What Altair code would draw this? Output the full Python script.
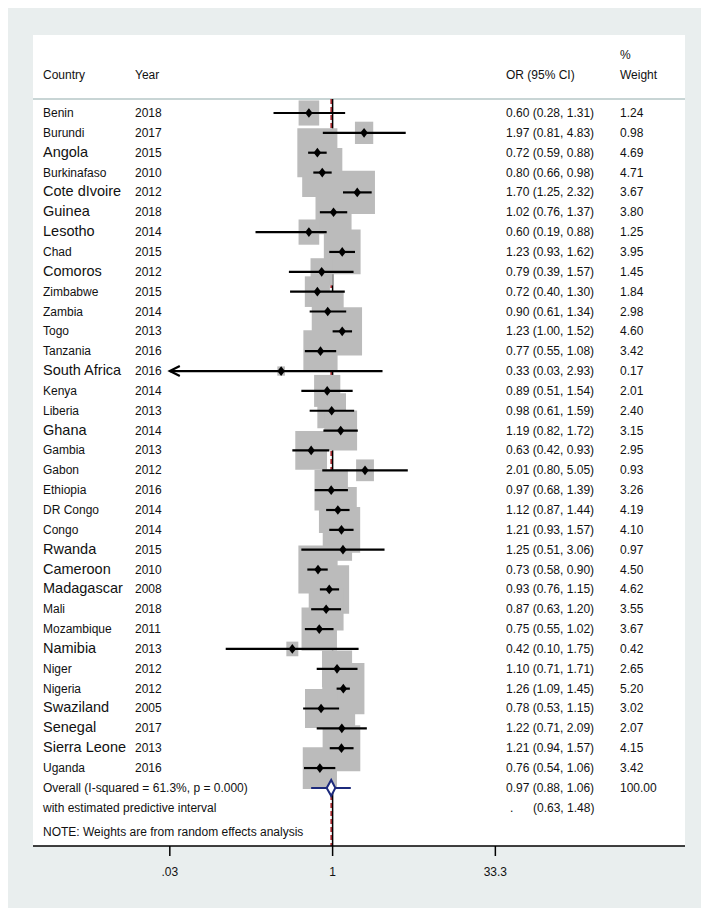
import altair as alt
import pandas as pd

# ---------------- data ----------------
countries = ["Benin", "Burundi", "Angola", "Burkinafaso", "Cote dIvoire", "Guinea", "Lesotho",
             "Chad", "Comoros", "Zimbabwe", "Zambia", "Togo", "Tanzania", "South Africa", "Kenya",
             "Liberia", "Ghana", "Gambia", "Gabon", "Ethiopia", "DR Congo", "Congo", "Rwanda",
             "Cameroon", "Madagascar", "Mali", "Mozambique", "Namibia", "Niger", "Nigeria",
             "Swaziland", "Senegal", "Sierra Leone", "Uganda"]
years = [2018, 2017, 2015, 2010, 2012, 2018, 2014, 2015, 2012, 2015, 2014, 2013, 2016, 2016, 2014,
         2013, 2014, 2013, 2012, 2016, 2014, 2014, 2015, 2010, 2008, 2018, 2011, 2013, 2012, 2012,
         2005, 2017, 2013, 2016]
or_est = [0.60, 1.97, 0.72, 0.80, 1.70, 1.02, 0.60, 1.23, 0.79, 0.72, 0.90, 1.23, 0.77, 0.33, 0.89,
          0.98, 1.19, 0.63, 2.01, 0.97, 1.12, 1.21, 1.25, 0.73, 0.93, 0.87, 0.75, 0.42, 1.10, 1.26,
          0.78, 1.22, 1.21, 0.76]
ci_low = [0.28, 0.81, 0.59, 0.66, 1.25, 0.76, 0.19, 0.93, 0.39, 0.40, 0.61, 1.00, 0.55, 0.03, 0.51,
          0.61, 0.82, 0.42, 0.80, 0.68, 0.87, 0.93, 0.51, 0.58, 0.76, 0.63, 0.55, 0.10, 0.71, 1.09,
          0.53, 0.71, 0.94, 0.54]
ci_high = [1.31, 4.83, 0.88, 0.98, 2.32, 1.37, 0.88, 1.62, 1.57, 1.30, 1.34, 1.52, 1.08, 2.93, 1.54,
           1.59, 1.72, 0.93, 5.05, 1.39, 1.44, 1.57, 3.06, 0.90, 1.15, 1.20, 1.02, 1.75, 1.71, 1.45,
           1.15, 2.09, 1.57, 1.06]
weights = [1.24, 0.98, 4.69, 4.71, 3.67, 3.80, 1.25, 3.95, 1.45, 1.84, 2.98, 4.60, 3.42, 0.17, 2.01,
           2.40, 3.15, 2.95, 0.93, 3.26, 4.19, 4.10, 0.97, 4.50, 4.62, 3.55, 3.67, 0.42, 2.65, 5.20,
           3.02, 2.07, 4.15, 3.42]
large_label_countries = ["Angola", "Cote dIvoire", "Guinea", "Lesotho", "Comoros", "South Africa",
                         "Ghana", "Rwanda", "Cameroon", "Madagascar", "Namibia", "Swaziland",
                         "Senegal", "Sierra Leone"]

overall_est, overall_lo, overall_hi = 0.97, 0.88, 1.06
pred_lo, pred_hi = 0.63, 1.48
overall_label = "Overall  (I-squared = 61.3%, p = 0.000)"
pred_label = "with estimated predictive interval"
note_label = "NOTE: Weights are from random effects analysis"
tick_values = [0.03, 1, 33.3]
tick_labels = [".03", "1", "33.3"]
axis_min = 0.03

# ---------------- tables ----------------
n = len(countries)
df = pd.DataFrame({"country": countries, "year": years, "est": or_est, "lo": ci_low,
                   "hi": ci_high, "w": weights})
df["row"] = list(range(n))
df["big"] = df["country"].isin(large_label_countries)
df["or_text"] = [f"{e:.2f} ({l:.2f}, {h:.2f})" for e, l, h in zip(or_est, ci_low, ci_high)]
df["w_text"] = [f"{w:.2f}" for w in weights]

overall_row = n
pred_row = n + 1
note_row = n + 2.2

diamond = pd.DataFrame({"x": [overall_lo, overall_est, overall_hi],
                        "ytop": [overall_row, overall_row - 0.4, overall_row],
                        "ybot": [overall_row, overall_row + 0.4, overall_row]})
pred = pd.DataFrame({"lo": [pred_lo], "hi": [pred_hi], "row": [overall_row]})
ticks = pd.DataFrame({"v": tick_values, "label": tick_labels})

# column pixel positions (layout)
PX_COUNTRY, PX_YEAR, PX_OR, PX_W = 35, 127, 498, 612

summary_text = pd.DataFrame({
    "t": [overall_label, pred_label, note_label,
          f"{overall_est:.2f} ({overall_lo:.2f}, {overall_hi:.2f})", "100.00",
          ".", f"({pred_lo:.2f}, {pred_hi:.2f})"],
    "row": [overall_row, pred_row, note_row, overall_row, overall_row, pred_row, pred_row],
    "px": [PX_COUNTRY, PX_COUNTRY, PX_COUNTRY, PX_OR, PX_W, PX_OR + 4, PX_OR + 27],
})
headers = pd.DataFrame({"t": ["Country", "Year", "OR (95% CI)", "%", "Weight"],
                        "px": [PX_COUNTRY, PX_YEAR, PX_OR, PX_W, PX_W],
                        "row": [-1.91, -1.91, -1.91, -2.92, -1.91]})
refs = pd.DataFrame({"null": [1.0], "overall": [overall_est]})
one = pd.DataFrame({"k": [0]})

# ---------------- layout ----------------
W, H = 693, 838
FONT = "Liberation Sans"
XS = alt.Scale(type="log", domain=[0.000919, 2794], nice=False)
YS = alt.Scale(domain=[-5.2897, 36.927], reverse=True, nice=False, zero=False)


def X(f):
    return alt.X(f, type="quantitative", scale=XS, axis=None)


def Y(f):
    return alt.Y(f, type="quantitative", scale=YS, axis=None)


panel = alt.Chart(one).mark_rect(color="white").encode(
    x=alt.value(25), x2=alt.value(677), y=alt.value(27), y2=alt.value(838))

sep = alt.Chart(one).mark_rule(color="#c8d5d5", strokeWidth=2).encode(
    x=alt.value(25), x2=alt.value(677), y=alt.value(91))

null_line = alt.Chart(refs).mark_rule(color="black", strokeWidth=1.5).encode(
    x=X("null"), y=alt.value(91), y2=alt.value(838))

dash_line = alt.Chart(refs).mark_rule(color="#a3262b", strokeWidth=1.6, strokeDash=[5, 3]).encode(
    x=X("overall"), y=alt.value(91), y2=alt.value(838))

boxes = alt.Chart(df).mark_point(shape="M-1,-1.22H1V1.22H-1Z", filled=True, color="#bbbbbb",
                                 opacity=1, strokeWidth=0).encode(
    x=X("est"), y=Y("row"),
    size=alt.Size("w:Q", scale=alt.Scale(domain=[0, 5.2], range=[0, 342 * 5.2], zero=True), legend=None))

ci = alt.Chart(df).transform_calculate(lo_c=f"max(datum.lo, {axis_min})").mark_rule(
    color="black", strokeWidth=2.2).encode(x=X("lo_c:Q"), x2="hi:Q", y=Y("row"))

pts = alt.Chart(df).mark_point(shape="M-1,0L0,-1.3L1,0L0,1.3Z", filled=True, color="black",
                               opacity=1, size=56).encode(x=X("est"), y=Y("row"))

arrow = alt.Chart(df).transform_filter(f"datum.lo <= {axis_min}").transform_calculate(
    lo_c=f"max(datum.lo, {axis_min})").mark_point(
    shape="M2,-1L0,0L2,1", filled=False, color="black", strokeWidth=2.2, size=100, opacity=1).encode(
    x=X("lo_c:Q"), y=Y("row"))

pred_line = alt.Chart(pred).mark_rule(color="#1c2a7c", strokeWidth=2).encode(
    x=X("lo"), x2="hi:Q", y=Y("row"))

dia = alt.Chart(diamond).mark_area(orient="vertical", fill="white", stroke="#1c2a7c",
                                   strokeWidth=2, opacity=1).encode(
    x=X("x"), y=alt.Y("ytop:Q", scale=YS, axis=None, stack=None), y2="ybot:Q")

axis_line = alt.Chart(one).mark_rule(color="black", strokeWidth=1.6).encode(
    x=alt.value(25), x2=alt.value(677), y=alt.value(838))

tick_marks = alt.Chart(ticks).mark_rule(color="black", strokeWidth=1.5).encode(
    x=X("v"), y=alt.value(838), y2=alt.value(848))

tick_text = alt.Chart(ticks).mark_text(font=FONT, fontSize=12, color="#111111", align="center",
                                       baseline="middle").encode(
    x=X("v"), y=alt.value(864), text="label:N")

TXT = dict(font=FONT, color="#111111", baseline="middle", align="left")

country_txt = alt.Chart(df).mark_text(**TXT).encode(
    x=alt.value(PX_COUNTRY), y=Y("row"), text="country:N",
    size=alt.condition("datum.big", alt.value(14.5), alt.value(12)))
year_txt = alt.Chart(df).mark_text(fontSize=12, **TXT).encode(
    x=alt.value(PX_YEAR), y=Y("row"), text="year:N")
or_txt = alt.Chart(df).mark_text(fontSize=12, **TXT).encode(
    x=alt.value(PX_OR), y=Y("row"), text="or_text:N")
w_txt = alt.Chart(df).mark_text(fontSize=12, **TXT).encode(
    x=alt.value(PX_W), y=Y("row"), text="w_text:N")

sum_txt = alt.Chart(summary_text).mark_text(fontSize=12, **TXT).encode(
    x=alt.X("px:Q", scale=None, axis=None), y=Y("row"), text="t:N")
head_txt = alt.Chart(headers).mark_text(fontSize=12, **TXT).encode(
    x=alt.X("px:Q", scale=None, axis=None), y=Y("row"), text="t:N")

chart = alt.layer(
    panel, sep, null_line, dash_line, boxes, ci, pts, arrow, pred_line, dia, axis_line,
    tick_marks, tick_text,
    country_txt, year_txt, or_txt, w_txt, sum_txt, head_txt
).properties(
    width=W, height=H, background="#e9eeee",
    padding={"left": 0, "top": 0, "right": 0, "bottom": 62},
    autosize=alt.AutoSizeParams(type="none"),
).configure_view(stroke=None)

chart.save("out.html", embed_options={"renderer": "svg", "actions": False})
